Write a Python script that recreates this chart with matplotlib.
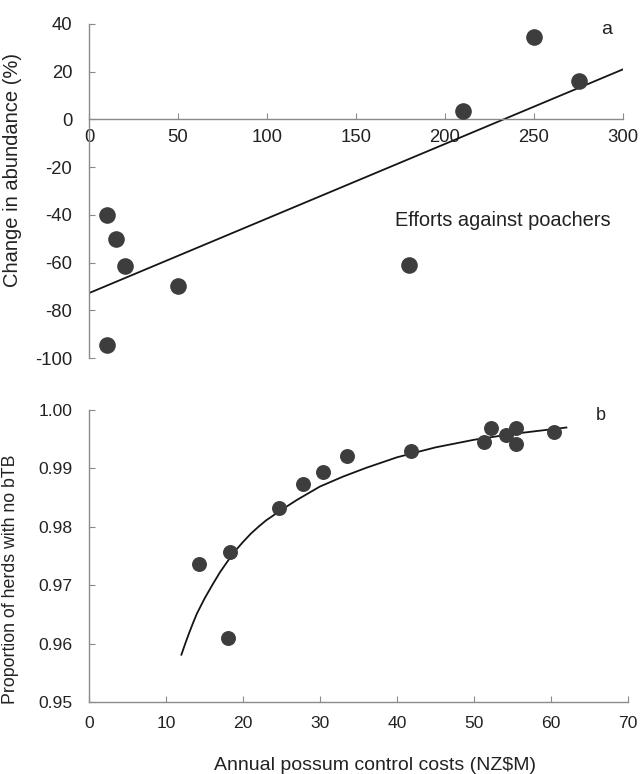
import numpy as np
import matplotlib
matplotlib.use("Agg")
import matplotlib.pyplot as plt

plt.rcParams['font.family'] = ['Liberation Sans', 'DejaVu Sans']
plt.rcParams['axes.unicode_minus'] = False

# panel a: efforts against poachers
effort = [10, 15, 20, 50, 10, 180, 210, 250, 275]
change = [-40, -50, -61.6, -70, -94.7, -61.2, 3.7, 34.4, 16.3]
fit_a_x = [0, 300]
fit_a_y = [-72.8, 21]

# panel b: possum control costs
cost = [14.3, 18.3, 18.0, 24.7, 27.8, 30.4, 33.5, 41.8, 51.3, 52.2, 54.2, 55.5, 55.4, 60.4]
prop = [0.9737, 0.9757, 0.9610, 0.9833, 0.9873, 0.9894, 0.9921, 0.9930,
        0.9946, 0.9970, 0.9957, 0.9970, 0.9942, 0.9962]
curve_x = [12, 12.5, 13, 13.5, 14, 15, 16, 17, 18, 19, 20, 21, 22, 23, 25, 27,
           30, 33, 36, 40, 45, 50, 55, 62]
curve_y = [0.9581, 0.9600, 0.9618, 0.9635, 0.9651, 0.9677, 0.9700, 0.9722,
           0.9741, 0.9759, 0.9774, 0.9788, 0.9800, 0.9811, 0.9829, 0.9846,
           0.9869, 0.9886, 0.9901, 0.9919, 0.9936, 0.9949, 0.9959, 0.9970]

axis_col = '#8a8a8a'
dot_col = '#3d3d3d'
txt_col = '#222222'

fig = plt.figure(figsize=(6.41, 7.74), dpi=100)

# ---- panel a
ax1 = fig.add_axes([89/641, 1-358/774, 534/641, 334/774])
ax1.plot(fit_a_x, fit_a_y, color='#151515', lw=1.3, zorder=2)
ax1.scatter(effort, change, s=120, color=dot_col, zorder=3)
ax1.set_xlim(0, 300)
ax1.set_ylim(-100, 40)
ax1.set_xticks(range(0, 301, 50))
ax1.set_yticks(range(-100, 41, 20))
ax1.spines['top'].set_visible(False)
ax1.spines['right'].set_visible(False)
ax1.spines['bottom'].set_position(('data', 0))
for s in ('left', 'bottom'):
    ax1.spines[s].set_color(axis_col)
    ax1.spines[s].set_linewidth(1.0)
ax1.tick_params(axis='x', direction='in', length=4, color=axis_col, labelsize=13.3, pad=7, labelcolor=txt_col)
ax1.tick_params(axis='y', direction='in', length=4, color=axis_col, labelsize=13.3, pad=12, labelcolor=txt_col)
ax1.set_ylabel('Change in abundance (%)', fontsize=14.5, color=txt_col)
ax1.yaxis.set_label_coords(-0.125, 0.563)
ax1.text(291, 37.5, 'a', fontsize=14, color=txt_col, ha='center', va='center')
ax1.text(172, -42.4, 'Efforts against poachers', fontsize=14.4, color=txt_col, ha='left', va='center')

# ---- panel b
ax2 = fig.add_axes([89/641, 1-702/774, 539/641, 292/774])
ax2.plot(curve_x, curve_y, color='#151515', lw=1.3, zorder=2)
ax2.scatter(cost, prop, s=95, color=dot_col, zorder=3)
ax2.set_xlim(0, 70)
ax2.set_ylim(0.95, 1.0)
ax2.set_xticks(range(0, 71, 10))
ax2.set_yticks(np.arange(0.95, 1.001, 0.01))
ax2.set_yticklabels(['0.95', '0.96', '0.97', '0.98', '0.99', '1.00'])
ax2.spines['top'].set_visible(False)
ax2.spines['right'].set_visible(False)
for s in ('left', 'bottom'):
    ax2.spines[s].set_color(axis_col)
    ax2.spines[s].set_linewidth(1.0)
ax2.tick_params(axis='x', direction='in', length=4, color=axis_col, labelsize=12.6, pad=10, labelcolor=txt_col)
ax2.tick_params(axis='y', direction='in', length=4, color=axis_col, labelsize=12.6, pad=12, labelcolor=txt_col)
ax2.set_ylabel('Proportion of herds with no bTB', fontsize=12.8, color=txt_col)
ax2.yaxis.set_label_coords(-0.13, 0.42)
ax2.text(66.5, 0.9991, 'b', fontsize=13, color=txt_col, ha='center', va='center')
fig.text(375/641, 1-765/774, 'Annual possum control costs (NZ$M)', fontsize=14,
         color=txt_col, ha='center', va='center')

fig.savefig('out.png', dpi=100, facecolor='white')
